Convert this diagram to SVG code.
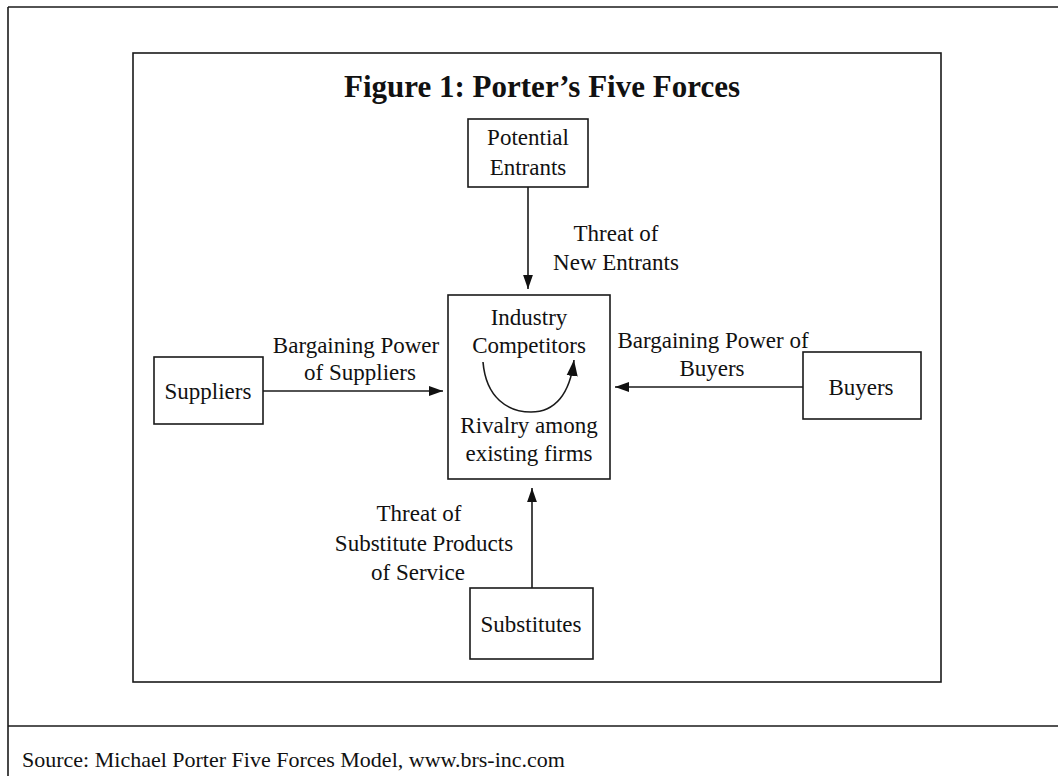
<svg xmlns="http://www.w3.org/2000/svg" width="1058" height="776" viewBox="0 0 1058 776">
<style>
.frame{fill:none;stroke:#1a1a1a;stroke-width:1.6}
.box{fill:#fff;stroke:#1a1a1a;stroke-width:1.6}
.t{font-family:"Liberation Serif","Times New Roman",serif;font-size:23px;fill:#111;text-anchor:middle}
.title{font-family:"Liberation Serif","Times New Roman",serif;font-size:31px;font-weight:bold;fill:#111;text-anchor:middle}
.src{font-family:"Liberation Serif","Times New Roman",serif;font-size:22px;fill:#111}
.conn{fill:none;stroke:#1a1a1a;stroke-width:1.6}
</style>
<defs>
<marker id="ah" viewBox="0 0 10 10" refX="10" refY="5" markerWidth="14" markerHeight="14" markerUnits="userSpaceOnUse" orient="auto">
<path d="M0,1.5 L10,5 L0,8.5 Z" fill="#111"/>
</marker>
<marker id="ah2" viewBox="0 0 10 10" refX="10" refY="5" markerWidth="16" markerHeight="16" markerUnits="userSpaceOnUse" orient="auto">
<path d="M0,1.5 L10,5 L0,8.5 Z" fill="#111"/>
</marker>
</defs>
<rect width="1058" height="776" fill="#fff"/>
<g id="outer-frame">
<line class="frame" x1="8" y1="7" x2="1058" y2="7"/>
<line class="frame" x1="8" y1="7" x2="8" y2="776"/>
<line class="frame" x1="8" y1="726" x2="1058" y2="726"/>
<rect class="frame" x="133" y="53" width="808" height="629"/>
</g>
<text class="title" x="542" y="97">Figure 1: Porter’s Five Forces</text>
<g id="connectors">
<line class="conn" x1="528" y1="187" x2="528" y2="289" marker-end="url(#ah)"/>
<line class="conn" x1="263" y1="391" x2="443" y2="391" marker-end="url(#ah)"/>
<line class="conn" x1="803" y1="387" x2="615" y2="387" marker-end="url(#ah)"/>
<line class="conn" x1="532" y1="588" x2="532" y2="488" marker-end="url(#ah)"/>
</g>
<g id="potential-entrants">
<rect class="box" x="468" y="119" width="120" height="68"/>
<text class="t" x="528" y="145">Potential</text>
<text class="t" x="528" y="175">Entrants</text>
</g>
<g id="label-new-entrants">
<text class="t" x="616" y="241">Threat of</text>
<text class="t" x="616" y="270">New Entrants</text>
</g>
<g id="industry-competitors">
<rect class="box" x="448" y="295" width="162" height="184"/>
<text class="t" x="529" y="325">Industry</text>
<text class="t" x="529" y="353">Competitors</text>
<path class="conn" d="M483,362 C486,398 508,412 531,412 C555,412 570,394 574,360" stroke-width="2.4" marker-end="url(#ah2)"/>
<text class="t" x="529" y="433">Rivalry among</text>
<text class="t" x="529" y="461">existing firms</text>
</g>
<g id="suppliers">
<rect class="box" x="154" y="357" width="109" height="67"/>
<text class="t" x="208" y="399">Suppliers</text>
</g>
<g id="label-suppliers">
<text class="t" x="356" y="353">Bargaining Power</text>
<text class="t" x="360" y="380">of Suppliers</text>
</g>
<g id="buyers">
<rect class="box" x="803" y="352" width="118" height="67"/>
<text class="t" x="861" y="395">Buyers</text>
</g>
<g id="label-buyers">
<text class="t" x="713" y="348">Bargaining Power of</text>
<text class="t" x="712" y="376">Buyers</text>
</g>
<g id="label-substitutes">
<text class="t" x="419" y="521">Threat of</text>
<text class="t" x="424" y="551">Substitute Products</text>
<text class="t" x="418" y="580">of Service</text>
</g>
<g id="substitutes">
<rect class="box" x="470" y="588" width="123" height="71"/>
<text class="t" x="531" y="632">Substitutes</text>
</g>
<text class="src" x="22" y="767">Source: Michael Porter Five Forces Model, www.brs-inc.com</text>
</svg>
